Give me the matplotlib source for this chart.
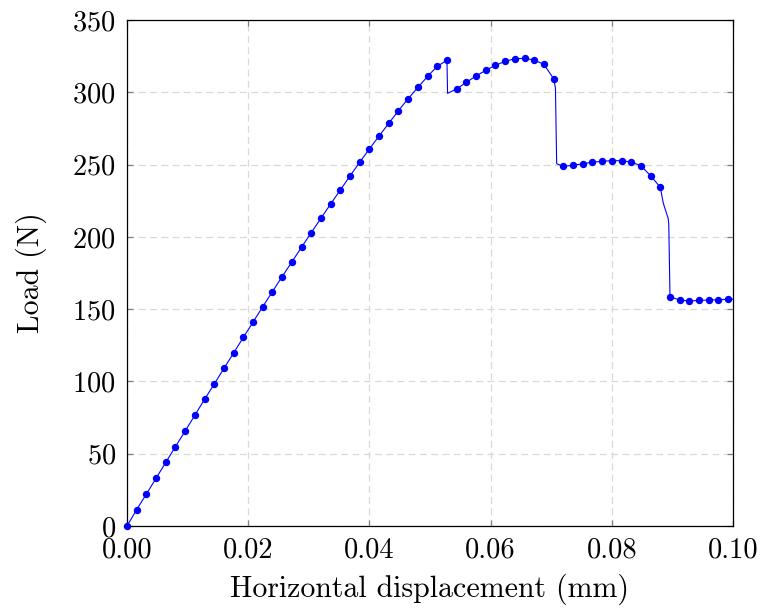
import matplotlib
matplotlib.use("Agg")
import matplotlib.pyplot as plt
from matplotlib.ticker import FormatStrFormatter

# Load-displacement curve.
# Every vertex of the line; the ones carrying a marker are listed in MARKED.
DISP = [
    0.0000, 0.0016, 0.0032, 0.0048, 0.0064, 0.0080, 0.0096, 0.0112,
    0.0128, 0.0144, 0.0160, 0.0176, 0.0192, 0.0208, 0.0224, 0.0240,
    0.0256, 0.0272, 0.0288, 0.0304, 0.0320, 0.0336, 0.0352, 0.0368,
    0.0384, 0.0400, 0.0416, 0.0432, 0.0448, 0.0464, 0.0480, 0.0496,
    0.0512, 0.0528, 0.0529,
    0.0544, 0.0560, 0.0576, 0.0592, 0.0608, 0.0624, 0.0640, 0.0656,
    0.0672, 0.0688, 0.0704, 0.0707, 0.0709,
    0.0720, 0.0736, 0.0752, 0.0768, 0.0784, 0.0800, 0.0816, 0.0832,
    0.0848, 0.0864, 0.0880, 0.0885, 0.0893, 0.0894,
    0.0896, 0.0912, 0.0928, 0.0944, 0.0960, 0.0976, 0.0992, 0.1000,
]
LOAD = [
    0.0, 11.3, 22.1, 33.0, 44.0, 54.9, 65.7, 76.6,
    87.6, 98.2, 109.0, 119.7, 130.5, 141.0, 151.7, 162.1,
    172.5, 182.6, 192.8, 202.9, 212.8, 222.7, 232.4, 242.1,
    251.6, 260.8, 269.8, 278.5, 287.3, 295.6, 303.4, 311.0,
    318.0, 322.1, 299.3,
    302.3, 306.9, 311.3, 315.2, 318.7, 321.4, 323.2, 323.5,
    322.3, 319.3, 309.4, 303.0, 250.6,
    248.8, 249.5, 250.6, 251.6, 252.3, 252.7, 252.7, 251.8,
    249.2, 242.3, 234.3, 223.2, 212.8, 209.0,
    158.6, 156.3, 155.6, 156.1, 156.3, 156.5, 156.8, 156.9,
]
EXTRA_VERTS = {34, 46, 47, 59, 60, 61, 69}
MARKED = [i for i in range(len(DISP)) if i not in EXTRA_VERTS]

X_TICKS = [0.0, 0.02, 0.04, 0.06, 0.08, 0.10]
Y_TICKS = [0, 50, 100, 150, 200, 250, 300, 350]

plt.rcParams["font.family"] = "cmr10"
plt.rcParams["mathtext.fontset"] = "cm"
plt.rcParams["axes.formatter.use_mathtext"] = True

fig = plt.figure(figsize=(7.63, 6.12), dpi=100)
fig.subplots_adjust(left=0.1664, right=0.9607, top=0.9673, bottom=0.1405)
ax = fig.add_subplot(111)

ax.plot(DISP, LOAD, color="#0000ff", linewidth=0.8, marker="o",
        markersize=4.3, markevery=MARKED, clip_on=False, zorder=3)

ax.set_xlim(0, 0.1)
ax.set_ylim(0, 350)
ax.set_xticks(X_TICKS)
ax.set_yticks(Y_TICKS)
ax.xaxis.set_major_formatter(FormatStrFormatter("%.2f"))

ax.grid(True, color="#d9d9d9", linestyle=(0, (5.5, 3.5)), linewidth=0.9)
ax.set_axisbelow(True)

for sp in ax.spines.values():
    sp.set_linewidth(0.9)

ax.tick_params(direction="in", length=4, width=0.9, color="#808080",
               top=True, right=True, labelsize=20.5, pad=8)

ax.set_xlabel("Horizontal displacement (mm)", fontsize=21.5, labelpad=7)
ax.set_ylabel("Load (N)", fontsize=21.5, labelpad=18)

fig.savefig("out.png", dpi=100)
